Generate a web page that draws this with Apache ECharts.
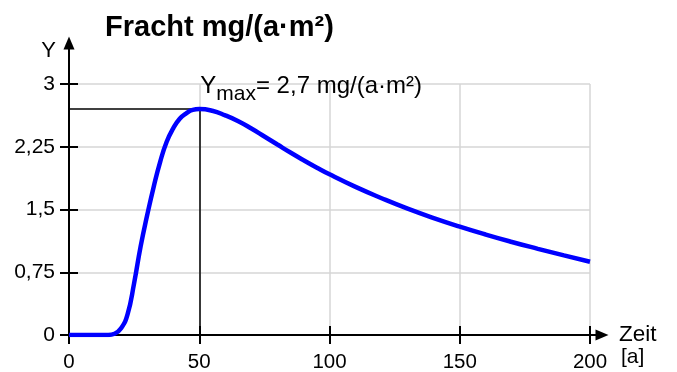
<!DOCTYPE html>
<html>
<head>
<meta charset="utf-8">
<script src="https://cdn.jsdelivr.net/npm/echarts@6/dist/echarts.min.js"></script>
<style>
  html, body { margin: 0; padding: 0; background: #ffffff; }
  #chart { width: 677px; height: 372px; }
</style>
</head>
<body>
<div id="chart"></div>
<script>
// Zeit in Jahren und Fracht in mg/(a·m²)
var years = [0, 5, 10, 15, 17.5, 20, 22.5, 25, 27.5, 30, 32.5, 35, 37.5, 40, 42.5, 45, 47.5, 50,
             55, 60, 65, 70, 75, 80, 85, 90, 95, 100, 110, 120, 130, 140, 150, 160, 170, 180, 190, 200];
var fracht = [0, 0, 0, 0, 0.015, 0.08, 0.25, 0.62, 1.06, 1.43, 1.77, 2.07, 2.31, 2.47, 2.585, 2.65, 2.69, 2.70,
              2.68, 2.625, 2.555, 2.468, 2.373, 2.277, 2.181, 2.09, 2.003, 1.92, 1.77, 1.635, 1.51, 1.398, 1.295,
              1.20, 1.112, 1.03, 0.951, 0.875];
var yTicks = [0, 0.75, 1.5, 2.25, 3];
var xTicks = [0, 50, 100, 150, 200];

var FONT = 'Liberation Sans, Arial, Helvetica, sans-serif';
var GRID_GRAY = '#d6d6d6';

function komma(v) { return String(v).replace('.', ','); }

// Maximum der Kurve
var peakIdx = 0;
for (var i = 1; i < fracht.length; i++) { if (fracht[i] > fracht[peakIdx]) peakIdx = i; }
var peakYear = years[peakIdx];
var peakValue = fracht[peakIdx];

var points = years.map(function (t, i) { return [t, fracht[i]]; });

var chart = echarts.init(document.getElementById('chart'), null, { renderer: 'canvas' });

var tickStyle = { color: '#000', width: 2 };

chart.setOption({
  animation: false,
  backgroundColor: '#ffffff',
  textStyle: { fontFamily: FONT },
  title: {
    text: 'Fracht mg/(a·m²)',
    left: 100, top: 8,
    textStyle: { fontFamily: FONT, fontSize: 29, fontWeight: 'bold', color: '#000' }
  },
  grid: [
    { left: 69, right: 87, top: 84, bottom: 37, containLabel: false, outerBoundsMode: 'none' },
    { left: 69, right: 75, top: 43, bottom: 37, containLabel: false, outerBoundsMode: 'none' }
  ],
  xAxis: [
    {
      type: 'value', gridIndex: 0, min: xTicks[0], max: xTicks[xTicks.length - 1], interval: xTicks[1] - xTicks[0],
      axisLine: { show: false },
      axisTick: { show: true, length: 9, lineStyle: tickStyle },
      axisLabel: { fontSize: 20.5, color: '#000', margin: 17, fontFamily: FONT },
      splitLine: { show: true, lineStyle: { color: GRID_GRAY, width: 1.5 } }
    },
    {
      type: 'value', gridIndex: 0, position: 'bottom', min: xTicks[0], max: xTicks[xTicks.length - 1], interval: xTicks[1] - xTicks[0],
      axisLine: { show: false },
      axisTick: { show: true, inside: true, length: 9, lineStyle: tickStyle },
      axisLabel: { show: false },
      splitLine: { show: false },
      name: ' \n[a]', nameLocation: 'end', nameGap: 31,
      nameTextStyle: { fontSize: 21, lineHeight: 44, color: '#000', fontFamily: FONT, align: 'left', verticalAlign: 'middle' }
    },
    {
      type: 'value', gridIndex: 1, min: 0, max: 1,
      axisLine: { show: true, symbol: ['none', 'triangle'], symbolSize: [11, 13], lineStyle: { color: '#000', width: 2 } },
      axisTick: { show: false }, axisLabel: { show: false }, splitLine: { show: false },
      name: 'Zeit', nameLocation: 'end', nameGap: 17,
      nameTextStyle: { fontSize: 22.5, color: '#000', fontFamily: FONT, align: 'left', verticalAlign: 'middle' }
    }
  ],
  yAxis: [
    {
      type: 'value', gridIndex: 0, min: yTicks[0], max: yTicks[yTicks.length - 1], interval: yTicks[1] - yTicks[0],
      axisLine: { show: false },
      axisTick: { show: true, length: 9, lineStyle: tickStyle },
      axisLabel: { fontSize: 21, color: '#000', margin: 14, fontFamily: FONT, formatter: komma },
      splitLine: { show: true, lineStyle: { color: GRID_GRAY, width: 1.5 } }
    },
    {
      type: 'value', gridIndex: 0, position: 'left', min: yTicks[0], max: yTicks[yTicks.length - 1], interval: yTicks[1] - yTicks[0],
      axisLine: { show: false },
      axisTick: { show: true, inside: true, length: 9, lineStyle: tickStyle },
      axisLabel: { show: false },
      splitLine: { show: false }
    },
    {
      type: 'value', gridIndex: 1, min: 0, max: 1,
      axisLine: { show: true, symbol: ['none', 'triangle'], symbolSize: [11, 13], lineStyle: { color: '#000', width: 2 } },
      axisTick: { show: false }, axisLabel: { show: false }, splitLine: { show: false },
      name: 'Y', nameLocation: 'end', nameGap: -8,
      nameTextStyle: { fontSize: 22, color: '#000', fontFamily: FONT, align: 'right', verticalAlign: 'middle', padding: [0, 13, 0, 0] }
    }
  ],
  series: [
    {
      type: 'line',
      xAxisIndex: 0, yAxisIndex: 0,
      data: points,
      smooth: 0.5,
      showSymbol: false,
      z: 3,
      lineStyle: { color: '#0000ff', width: 4.5 },
      markLine: {
        silent: true,
        symbol: ['none', 'none'],
        z: 1,
        label: { show: false },
        lineStyle: { color: '#000', width: 1.5, type: 'solid' },
        data: [
          [{ coord: [0, peakValue] }, { coord: [peakYear, peakValue] }],
          [{ coord: [peakYear, peakValue] }, { coord: [peakYear, 0] }]
        ]
      },
      markPoint: {
        silent: true,
        symbol: 'circle',
        symbolSize: 0,
        data: [{ coord: [peakYear, peakValue] }],
        label: {
          show: true,
          position: [0, 0],
          align: 'left',
          verticalAlign: 'bottom',
          offset: [1, -4],
          formatter: function () {
            return '{y|Y}{s|max}{t|= ' + komma(peakValue) + ' mg/(a·m²)}';
          },
          rich: {
            y: { fontSize: 24, color: '#000', fontFamily: FONT, verticalAlign: 'bottom', lineHeight: 30, padding: [0, 0, 7, 0] },
            s: { fontSize: 21, color: '#000', fontFamily: FONT, verticalAlign: 'bottom', lineHeight: 30 },
            t: { fontSize: 24, color: '#000', fontFamily: FONT, verticalAlign: 'bottom', lineHeight: 30, padding: [0, 0, 7, 0] }
          }
        }
      }
    }
  ]
});
</script>
</body>
</html>
